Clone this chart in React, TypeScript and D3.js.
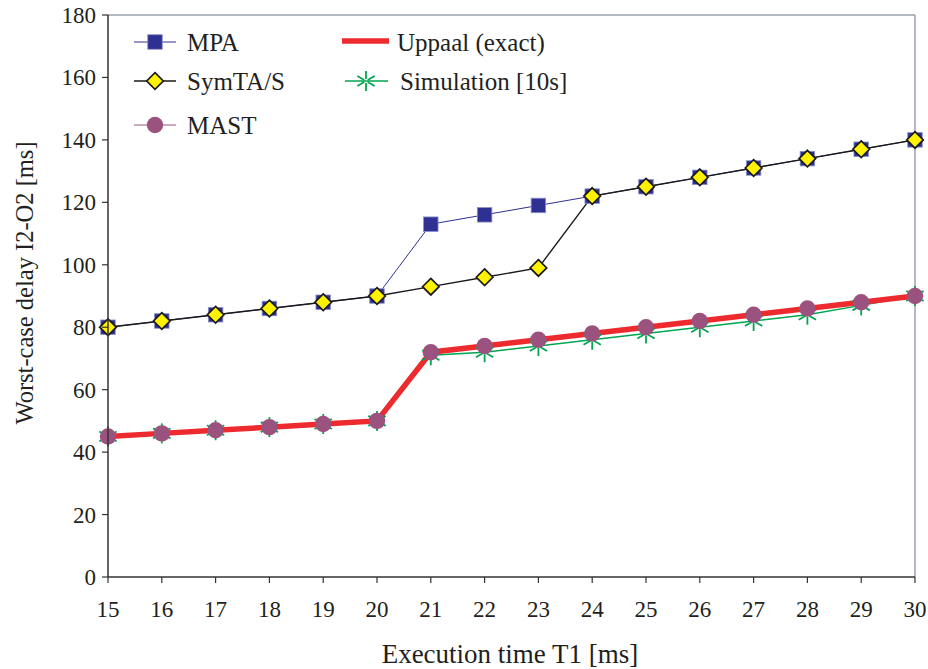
import React from "react";
import * as d3 from "d3";

const execTimes = [15, 16, 17, 18, 19, 20, 21, 22, 23, 24, 25, 26, 27, 28, 29, 30];
const mpa = [80, 82, 84, 86, 88, 90, 113, 116, 119, 122, 125, 128, 131, 134, 137, 140];
const symtas = [80, 82, 84, 86, 88, 90, 93, 96, 99, 122, 125, 128, 131, 134, 137, 140];
const mast = [45, 46, 47, 48, 49, 50, 72, 74, 76, 78, 80, 82, 84, 86, 88, 90];
const uppaal = [45, 46, 47, 48, 49, 50, 72, 74, 76, 78, 80, 82, 84, 86, 88, 90];
const simulation = [45, 46, 47, 48, 49, 50, 71, 72, 74, 76, 78, 80, 82, 84, 87, 90];
const yTicks = [0, 20, 40, 60, 80, 100, 120, 140, 160, 180];

const W = 928;
const H = 669;
const left = 108;
const right = 915;
const top = 15;
const bottom = 577;

const FONT = "'Liberation Serif', 'Times New Roman', serif";

const x = d3.scaleLinear().domain([15, 30]).range([left, right]);
const y = d3.scaleLinear().domain([0, 180]).range([bottom, top]);

const C_MPA = "#2e3192";
const C_SYM = "#1a1a1a";
const C_YEL = "#fff200";
const C_MAST = "#9b527f";
const C_RED = "#ed2a2e";
const C_SIM = "#00a550";

function pts(vals: number[]): [number, number][] {
  return vals.map((v, i) => [x(execTimes[i]), y(v)]);
}

const line = d3.line<[number, number]>();

function Square({ cx, cy }: { cx: number; cy: number }) {
  const s = 14.5;
  return <rect x={cx - s / 2} y={cy - s / 2} width={s} height={s} fill={C_MPA} stroke="#8c8fc8" strokeWidth={0.8} />;
}
function Diamond({ cx, cy }: { cx: number; cy: number }) {
  const r = 8.3;
  return (
    <path
      d={`M${cx},${cy - r}L${cx + r},${cy}L${cx},${cy + r}L${cx - r},${cy}Z`}
      fill={C_YEL}
      stroke={C_SYM}
      strokeWidth={1.7}
    />
  );
}
function Circle({ cx, cy }: { cx: number; cy: number }) {
  return <circle cx={cx} cy={cy} r={8.2} fill={C_MAST} />;
}
function Star({ cx, cy }: { cx: number; cy: number }) {
  const r = 10;
  const inner = 2;
  const angles = [90, 30, 150, 210, 330, 270];
  return (
    <g>
      {angles.map((a, i) => {
        const t = (a * Math.PI) / 180;
        return (
          <line
            key={i}
            x1={cx + inner * Math.cos(t)}
            y1={cy - inner * Math.sin(t)}
            x2={cx + r * Math.cos(t)}
            y2={cy - r * Math.sin(t)}
            stroke={C_SIM}
            strokeWidth={1.8}
          />
        );
      })}
    </g>
  );
}

export default function App() {
  const mpaP = pts(mpa);
  const symP = pts(symtas);
  const mastP = pts(mast);
  const uppP = pts(uppaal);
  const simP = pts(simulation);

  return (
    <svg width={W} height={H} style={{ position: "absolute", left: 0, top: 0, background: "#fff" }} fontFamily={FONT}>
      {/* frame: top and right in grey */}
      <line x1={left} y1={top} x2={right} y2={top} stroke="#98a2ab" strokeWidth={1.5} />
      <line x1={right} y1={top} x2={right} y2={bottom} stroke="#98a2ab" strokeWidth={1.5} />

      {/* series lines */}
      <path d={line(mpaP) || ""} fill="none" stroke={C_MPA} strokeWidth={1} />
      <path d={line(symP) || ""} fill="none" stroke={C_SYM} strokeWidth={1.4} />
      <path d={line(mastP) || ""} fill="none" stroke={C_MAST} strokeWidth={1} />
      <path d={line(simP) || ""} fill="none" stroke={C_SIM} strokeWidth={1.5} />
      <path d={line(uppP) || ""} fill="none" stroke={C_RED} strokeWidth={5.5} />

      {/* markers */}
      {simP.map(([cx, cy], i) => (
        <Star key={"s" + i} cx={cx} cy={cy} />
      ))}
      {mastP.map(([cx, cy], i) => (
        <Circle key={"c" + i} cx={cx} cy={cy} />
      ))}
      {mpaP.map(([cx, cy], i) => (
        <Square key={"q" + i} cx={cx} cy={cy} />
      ))}
      {symP.map(([cx, cy], i) => (
        <Diamond key={"d" + i} cx={cx} cy={cy} />
      ))}

      {/* axes */}
      <line x1={left} y1={top} x2={left} y2={bottom} stroke="#333" strokeWidth={1.5} />
      <line x1={left} y1={bottom} x2={right} y2={bottom} stroke="#333" strokeWidth={1.5} />
      {yTicks.map((t) => (
        <g key={"yt" + t}>
          <line x1={left - 6} x2={left} y1={y(t)} y2={y(t)} stroke="#333" strokeWidth={1.2} />
          <text x={left - 12} y={y(t) + 8} textAnchor="end" fontSize={23} fill="#231f20">
            {t}
          </text>
        </g>
      ))}
      {execTimes.map((t) => (
        <g key={"xt" + t}>
          <line x1={x(t)} x2={x(t)} y1={bottom} y2={bottom + 6} stroke="#333" strokeWidth={1.2} />
          <text x={x(t)} y={bottom + 40} textAnchor="middle" fontSize={23} fill="#231f20">
            {t}
          </text>
        </g>
      ))}
      <text x={510} y={663} textAnchor="middle" fontSize={27} fill="#231f20">
        Execution time T1 [ms]
      </text>
      <text
        transform={`translate(33,283) rotate(-90)`}
        textAnchor="middle"
        fontSize={24.5}
        fill="#231f20"
      >
        Worst-case delay I2-O2 [ms]
      </text>

      {/* legend */}
      <g fontSize={25} fill="#231f20">
        <line x1={134} x2={176} y1={42} y2={42} stroke={C_MPA} strokeWidth={1} />
        <Square cx={155} cy={42} />
        <text x={187} y={51}>MPA</text>

        <line x1={134} x2={176} y1={81} y2={81} stroke={C_SYM} strokeWidth={1.4} />
        <Diamond cx={155} cy={81} />
        <text x={187} y={90}>SymTA/S</text>

        <line x1={134} x2={176} y1={125} y2={125} stroke={C_MAST} strokeWidth={1} />
        <Circle cx={155} cy={125} />
        <text x={187} y={134}>MAST</text>

        <line x1={342} x2={389} y1={41} y2={41} stroke={C_RED} strokeWidth={5.5} />
        <text x={397} y={51}>Uppaal (exact)</text>

        <line x1={345} x2={388} y1={81} y2={81} stroke={C_SIM} strokeWidth={1.5} />
        <Star cx={366} cy={81} />
        <text x={400} y={90}>Simulation [10s]</text>
      </g>
    </svg>
  );
}
